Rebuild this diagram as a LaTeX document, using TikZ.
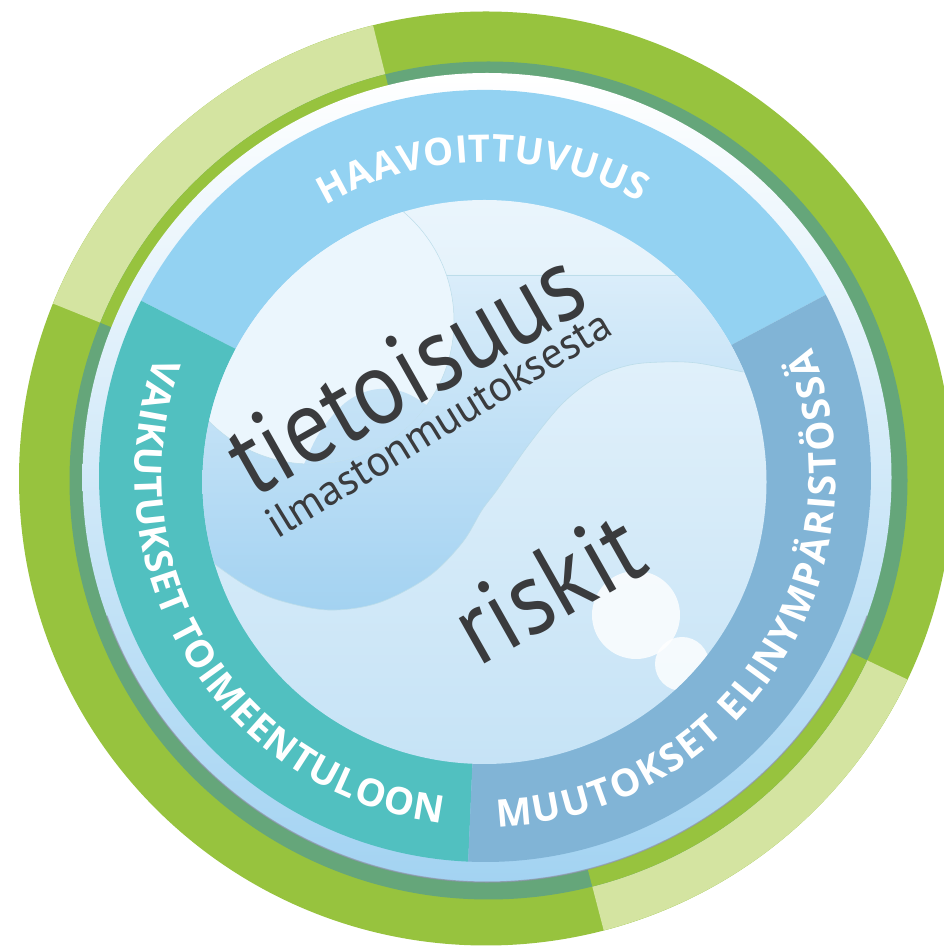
\documentclass[tikz,border=0pt]{standalone}
\usepackage{fontspec}
\newfontfamily\bandfont{Open Sans}
\newfontfamily\wordfont{PT Sans}
\usetikzlibrary{decorations.text}
\definecolor{gbright}{HTML}{97C33E}
\definecolor{gpale}{HTML}{D4E4A1}
\definecolor{gdark}{HTML}{65A67A}
\definecolor{lringbot}{HTML}{A3D3F2}
\definecolor{lringmid}{HTML}{CDE7F8}
\definecolor{bandtop}{HTML}{93D2F2}
\definecolor{bandteal}{HTML}{51C0C0}
\definecolor{bandsteel}{HTML}{81B4D6}
\definecolor{disktop}{HTML}{EAF5FC}
\definecolor{diskbot}{HTML}{C6E3F6}
\definecolor{wavetop}{HTML}{DAEDFA}
\definecolor{wavebot}{HTML}{A3D2F1}
\definecolor{bubblefill}{HTML}{EBF6FD}
\definecolor{bumptop}{HTML}{C6E3F6}
\definecolor{bumpbot}{HTML}{BBDDF5}
\definecolor{textdark}{HTML}{3A3B3D}
\definecolor{shadowgray}{HTML}{8D92A6}
\definecolor{edgeline}{HTML}{BCDDEA}
\newcommand\bandfmt{\bandfont\bfseries\fontsize{38}{38}\selectfont}
\tikzset{
  bigword/.style={text=textdark, inner sep=0pt, anchor=base west, font=\wordfont\fontsize{90}{90}\selectfont},
  smallword/.style={text=textdark, inner sep=0pt, anchor=base west, font=\wordfont\fontsize{42}{42}\selectfont},
  curvetext/.style={decorate, decoration={text along path, text={#1}, text color=white, text align={fit to path}}}
}
\begin{document}
\begin{tikzpicture}[x=1pt,y=1pt]
\useasboundingbox (0,0) rectangle (944,948);
\clip (0,0) rectangle (944,948);
\fill[white] (0,0) rectangle (944,948);
% centres
\coordinate (G) at (486,469.5);
\coordinate (S) at (488.5,467.5);
\coordinate (L) at (487,470.5);
\coordinate (B) at (485,472);
\coordinate (D) at (484.5,466);
% outer green ring
\fill[gbright] (G) circle[radius=467];
\fill[gpale] (G) -- ([shift={(104:467)}]G) arc[start angle=104,end angle=158,radius=467] -- cycle;
\fill[gpale] (G) -- ([shift={(-75.4:467)}]G) arc[start angle=-75.4,end angle=-25.5,radius=467] -- cycle;
% stripe
\fill[gdark] (S) circle[radius=419];
\begin{scope}
\clip (S) circle[radius=419];
\fill[gbright] (G) -- ([shift={(104:480)}]G) arc[start angle=104,end angle=158,radius=480] -- cycle;
\fill[gbright] (G) -- ([shift={(-75.4:480)}]G) arc[start angle=-75.4,end angle=-25.5,radius=480] -- cycle;
\end{scope}
% light ring
\shade[top color=white, middle color=lringmid, bottom color=lringbot] (L) circle[radius=404.5];
\draw[shadowgray, line width=1.3pt, opacity=0.7] ([shift={(200:404.5)}]L) arc[start angle=200,end angle=340,radius=404.5];
% band sectors
\fill[bandtop] (B) -- ([shift={(28:386)}]B) arc[start angle=28,end angle=153,radius=386] -- cycle;
\fill[bandteal] (B) -- ([shift={(153:386)}]B) arc[start angle=153,end angle=267.5,radius=386] -- cycle;
\fill[bandsteel] (B) -- ([shift={(267.5:386)}]B) arc[start angle=267.5,end angle=388,radius=386] -- cycle;
% inner disk
\shade[top color=disktop, bottom color=diskbot] (D) circle[radius=282];
\begin{scope}
\clip (D) circle[radius=282];
\shade[top color=wavetop, bottom color=wavebot] (150,673) -- (720,673) -- (760,576) -- plot[smooth, tension=0.55] coordinates {(743,576) (697,585) (663,586) (630,583) (597,571) (563,545) (530,505) (497,458) (482,438) (462,405) (428,371) (378,345) (328,338) (278,348) (245,363) (213,385) (150,428)} -- cycle;
\draw[edgeline, line width=0.6pt] plot[smooth, tension=0.55] coordinates {(743,576) (697,585) (663,586) (630,583) (597,571) (563,545) (530,505) (497,458) (482,438) (462,405) (428,371) (378,345) (328,338) (278,348) (245,363) (213,385)};
\draw[edgeline, line width=0.6pt] (440,673) -- (720,673);
\fill[bubblefill, draw=edgeline, line width=0.5pt] (311,627) circle[radius=143];
\begin{scope}
\clip (311,627) circle[radius=143];
\shade[top color=bumptop, bottom color=bumpbot] plot[smooth, tension=0.6] coordinates {(298,472) (305,486) (320,516) (345,545) (372,558) (400,557) (425,544) (440,528)} -- (470,528) -- (470,460) -- (298,460) -- cycle;
\end{scope}
\fill[white, opacity=0.8] (636,333) circle[radius=44];
\fill[white, opacity=0.8] (682,284) circle[radius=27];
\end{scope}
% inner words
\node[bigword, rotate=29.5] (tieto) at (253,449) {\resizebox{390pt}{!}{\scalebox{1}[1.12]{tietoisuus}}};
\node[smallword, rotate=31.5] (ilmasto) at (277,408) {\resizebox{396pt}{!}{ilmastonmuutoksesta}};
\node[bigword, rotate=29.5] (riskit) at (478,280) {\resizebox{200pt}{!}{\scalebox{1}[1.1]{riskit}}};
% band texts
\path[curvetext={|\bandfmt|HAAVOITTUVUUS}] ([shift={(120.5:314)}]B) arc[start angle=120.5,end angle=60.5,radius=314];
\path[curvetext={|\bandfmt|VAIKUTUKSET TOIMEENTULOON}] ([shift={(160:350)}]B) arc[start angle=160,end angle=263,radius=350];
\path[curvetext={|\bandfmt|MUUTOKSET ELINYMPÄRISTÖSSÄ}] ([shift={(272:351)}]B) arc[start angle=272,end angle=381.4,radius=351];
\end{tikzpicture}
\end{document}
